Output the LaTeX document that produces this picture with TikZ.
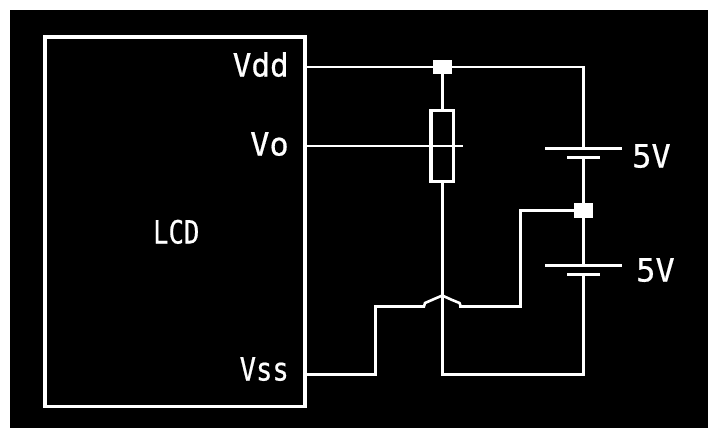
\documentclass[tikz,border=0pt]{standalone}
\usepackage{fontspec}
\newfontfamily\pix[FakeBold=0.6]{DejaVu Sans Mono}
\tikzset{
  x=1pt,y=-1pt,
  wire/.style={draw=white,line width=2.8pt,line cap=rect,line join=miter},
  thin wire/.style={draw=white,line width=2.2pt},
  junction/.style={fill=white,inner sep=0pt,minimum width=19pt,minimum height=14.5pt},
  body/.style={draw=white,line width=3.6pt,fill=black,inner sep=0pt,minimum width=260.5pt,minimum height=369pt},
  resist/.style={draw=white,line width=3.5pt,inner sep=0pt,minimum width=22.5pt,minimum height=71pt},
  plate/.style={draw=white,line width=3pt},
  lbl/.style={text=white,inner sep=0pt,font=\pix\fontsize{32}{32}\selectfont,anchor=base west,transform shape}
}
\begin{document}
\begin{tikzpicture}
\useasboundingbox (0,0) rectangle (708,428);
\fill[white] (0,0) rectangle (708,428);
\fill[black] (10,10) rectangle (708,428);
\node[body] (lcd) at (175,221.8) {};
\node[junction] (j1) at (442.5,67) {};
\node[junction,minimum height=15pt] (j2) at (583.5,210.5) {};
\node[resist] (r) at (442.3,146) {};
\coordinate (b1t) at (583.5,148.5);
\coordinate (b1l) at (545,148.5);
\coordinate (b1r) at (622,148.5);
\coordinate (b1b) at (583.5,157.5);
\coordinate (b1sl) at (567,157.5);
\coordinate (b1sr) at (600,157.5);
\coordinate (b2t) at (583.5,265.5);
\coordinate (b2l) at (545,265.5);
\coordinate (b2r) at (622,265.5);
\coordinate (b2b) at (583.5,274.5);
\coordinate (b2sl) at (567,274.5);
\coordinate (b2sr) at (600,274.5);
\coordinate (vdd) at (lcd.east |- j1);
\coordinate (vo) at (lcd.east |- 0,146);
\coordinate (voend) at (463,146);
\coordinate (vss) at (lcd.east |- 0,374.3);
\coordinate (s1) at (375.3,374.3);
\coordinate (s2) at (375.3,306.3);
\coordinate (h0) at (424,306.3);
\coordinate (h1) at (460.7,306.3);
\coordinate (s3) at (520.5,306.3);
\coordinate (s4) at (520.5,210.5);
\coordinate (bl) at (442.3,374.3);
\coordinate (br) at (583.5,374.3);
\coordinate (tr) at (583.5,67);
\draw[thin wire] (vdd) -- (j1) -- (tr);
\draw[wire] (tr) -- (b1t);
\draw[wire] (j1) -- (r);
\draw[wire] (r) -- (bl) -- (br) -- (b2b);
\draw[thin wire] (vo) -- (voend);
\draw[wire] (b1b) -- (j2) -- (b2t);
\draw[plate] (b1l) -- (b1r);
\draw[plate] (b1sl) -- (b1sr);
\draw[plate] (b2l) -- (b2r);
\draw[plate] (b2sl) -- (b2sr);
\draw[wire] (vss) -- (s1) -- (s2) -- (h0);
\draw[wire,line width=2.6pt] (h0) -- (425,303) -- (433,299.5) -- (442.3,295.5) -- (451,299.5) -- (459.5,303) -- (h1);
\draw[wire] (h1) -- (s3) -- (s4) -- (j2);
\node[lbl,xscale=.97] (tvdd) at (232.5,76.5) {Vdd};
\node[lbl,xscale=1] (tvo) at (250,155.5) {Vo};
\node[lbl,xscale=.85] (tvss) at (239.5,380.5) {Vss};
\node[lbl,xscale=.8] (tlcd) at (153,243.5) {LCD};
\node[lbl,xscale=1] (t5a) at (632,167.5) {5V};
\node[lbl,xscale=1] (t5b) at (636,281.5) {5V};
\end{tikzpicture}
\end{document}
